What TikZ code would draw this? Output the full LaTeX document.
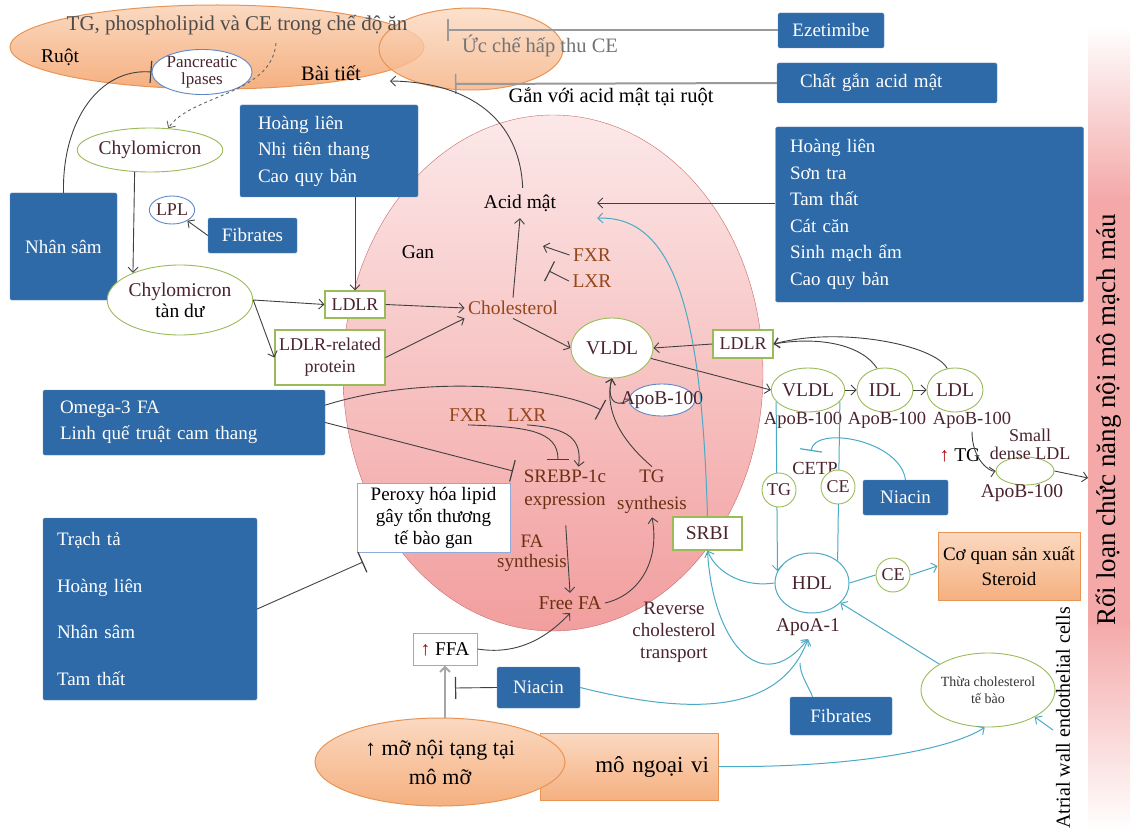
\documentclass[tikz,border=0pt]{standalone}
\usepackage{fontspec}
\setmainfont{Liberation Serif}
\usetikzlibrary{shapes.geometric,arrows.meta,positioning}

\definecolor{boxblue}{RGB}{46,106,168}
\definecolor{lipgreen}{RGB}{155,187,89}
\definecolor{hdlteal}{RGB}{75,170,198}
\definecolor{ellblue}{RGB}{95,135,200}
\definecolor{orglight}{RGB}{251,217,193}
\definecolor{orgmid}{RGB}{245,176,128}
\definecolor{orgline}{RGB}{232,148,85}
\definecolor{livtop}{RGB}{252,232,232}
\definecolor{livbot}{RGB}{242,158,158}
\definecolor{livline}{RGB}{200,105,105}
\definecolor{barpink}{RGB}{244,168,168}
\definecolor{lipbrown}{RGB}{150,70,25}
\definecolor{lipdark}{RGB}{75,35,45}

\tikzset{
  every node/.style={font=\fontsize{19.5}{21}\selectfont},
  bluebox/.style={rectangle, rounded corners=1.5pt, fill=boxblue, draw=boxblue!75!white,
    text=white, font=\fontsize{19}{26.5}\selectfont, inner sep=0pt},
  lipell/.style={ellipse, draw=lipgreen, fill=white, line width=0.9pt, inner sep=0pt, text=lipdark},
  lipbox/.style={rectangle, draw=lipgreen, fill=white, line width=1.2pt, inner sep=0pt,
    text=lipdark, align=center},
  lipcirc/.style={circle, draw=lipgreen, fill=white, line width=0.9pt, inner sep=0pt,
    minimum size=34pt, text=lipdark, font=\fontsize{18}{20}\selectfont},
  blueell/.style={ellipse, draw=ellblue, fill=white, line width=0.9pt, inner sep=0pt, text=lipdark},
  link/.style={->, draw=black!75, line width=0.9pt},
  blockline/.style={-{Bar[width=22pt,line width=1.2pt]}, draw=black!75, line width=0.9pt},
  tealline/.style={draw=hdlteal, line width=1pt},
  orgshade/.style={top color=orglight, bottom color=orgmid, draw=orgline, line width=1pt},
  >={Straight Barb[length=5pt,width=10pt]},
}

\begin{document}
\begin{tikzpicture}[x=1pt,y=-1pt]
\useasboundingbox (0,0) rectangle (1136,832);

\draw[orgshade] (217,47) ellipse [x radius=207, y radius=42];
\draw[orgshade, fill opacity=0.8] (471,49) ellipse [x radius=92, y radius=41];
\draw[draw=livline, top color=livtop, bottom color=livbot] (553,373) ellipse [x radius=210, y radius=258];
\shade[top color=white, bottom color=barpink] (1088,25) rectangle (1130,200.5);
\fill[barpink] (1088,200) rectangle (1130,620);
\shade[top color=barpink, bottom color=white] (1088,619.5) rectangle (1130,830);
\node[rotate=90, font=\fontsize{27}{30}\selectfont] (roi) at (1109,420) {Rối loạn chức năng nội mô mạch máu};
\coordinate (roiIn) at (1088,478);

\node[text=black!70, font=\fontsize{21}{23}\selectfont] (diet) at (237,25) {TG, phospholipid và CE trong chế độ ăn};
\node (ruot) at (60,57) {Ruột};
\node[blueell, minimum width=90pt, minimum height=44pt, align=center,
  font=\fontsize{17}{17}\selectfont] (panc) at (202,72) {Pancreatic\\lpases};
\node[font=\fontsize{20.5}{22}\selectfont] (baitiet) at (331,73) {Bài tiết};
\node[text=black!55, font=\fontsize{20.5}{22}\selectfont] (ucche) at (540,46) {Ức chế hấp thu CE};
\node[font=\fontsize{20.5}{22}\selectfont] (ganvoi) at (611,97) {Gắn với acid mật tại ruột};
\coordinate (dietOut) at (276,43);
\coordinate (bileOut) at (390,81);
\coordinate (ezeBar) at (447,30.5);
\coordinate (ganBar) at (455,84);

\node[bluebox, minimum width=106pt, minimum height=35pt] (eze) at (831,30.5) {Ezetimibe};
\node[bluebox, minimum width=220pt, minimum height=40pt, text width=174pt, align=left]
  (chatgan) at (887,83) {Chất gắn acid mật};
\node[bluebox, minimum width=178pt, minimum height=92pt, text width=142pt, align=left]
  (hl3) at (329,151) {Hoàng liên\\Nhị tiên thang\\Cao quy bản};
\node[bluebox, minimum width=308pt, minimum height=175pt, text width=279pt, align=left]
  (hl6) at (929.5,214.5) {Hoàng liên\\Sơn tra\\Tam thất\\Cát căn\\Sinh mạch ẩm\\Cao quy bản};
\node[bluebox, minimum width=107pt, minimum height=107pt] (nhansam) at (63.5,246.5) {Nhân sâm};
\node[bluebox, minimum width=89pt, minimum height=35pt] (fib1) at (252.5,235.5) {Fibrates};
\node[bluebox, minimum width=282pt, minimum height=65pt, text width=248pt, align=left]
  (omega) at (184,422.5) {Omega-3 FA\\Linh quế truật cam thang};
\node[bluebox, minimum width=214pt, minimum height=182pt, text width=186pt, align=left]
  (trach) at (150,609) {Trạch tả\\[20pt]Hoàng liên\\[20pt]Nhân sâm\\[20pt]Tam thất};
\node[bluebox, minimum width=83pt, minimum height=41pt] (niacin1) at (538.5,687.5) {Niacin};
\node[bluebox, minimum width=85pt, minimum height=35pt] (niacin2) at (905.5,497.5) {Niacin};
\node[bluebox, minimum width=102pt, minimum height=38pt] (fib2) at (841,716) {Fibrates};

\node[lipell, minimum width=100pt, minimum height=44pt] (chylo) at (150,150) {Chylomicron};
\node[blueell, minimum width=44pt, minimum height=28pt, font=\fontsize{18}{20}\selectfont] (lpl) at (172,210) {LPL};
\node[lipell, minimum width=118pt, minimum height=70pt, align=center] (chylorem) at (180,300) {Chylomicron\\\textcolor{black}{tàn dư}};
\node[lipbox, minimum width=60pt, minimum height=27pt, font=\fontsize{18}{20}\selectfont] (ldlr1) at (355,304.5) {LDLR};
\node[lipbox, minimum width=110pt, minimum height=55pt, font=\fontsize{18}{22}\selectfont]
  (ldlrrp) at (330,357.5) {LDLR-related\\protein};

\node (gan) at (418,252) {Gan};
\node[minimum width=154pt, minimum height=30pt, inner sep=0pt] (acid) at (520,203) {Acid mật};
\node[text=lipbrown] (fxr1) at (592,255) {FXR};
\node[text=lipbrown] (lxr1) at (592,281) {LXR};
\coordinate (fxrTip) at (543,246);
\coordinate (lxrBar) at (549,271);
\node[text=lipbrown] (chol) at (513,308) {Cholesterol};
\node[lipell, minimum width=82pt, minimum height=60pt] (vldlin) at (612,348) {VLDL};
\node[lipbox, minimum width=60pt, minimum height=28pt, font=\fontsize{18}{20}\selectfont] (ldlr2) at (743,344) {LDLR};
\node[blueell, inner xsep=-18pt, inner ysep=2pt, minimum width=56pt, minimum height=32pt]
  (apob) at (662,400) {ApoB-100};
\node[text=lipbrown] (fxr2) at (468,415) {FXR};
\node[text=lipbrown] (lxr2) at (527,415) {LXR};
\coordinate (fxrBar2) at (558,460);
\coordinate (vldlBar) at (601,410);
\coordinate (srebpBar) at (513,471);
\node[text=lipbrown!70!black, align=center, font=\fontsize{19}{23}\selectfont] (srebp) at (565,490) {SREBP-1c\\expression};
\node[text=lipbrown!70!black, align=center, font=\fontsize{19}{27}\selectfont] (tgsyn) at (652,492) {TG\\synthesis};
\node[text=lipbrown!70!black, align=center, font=\fontsize{19}{20}\selectfont] (fasyn) at (532,553) {FA\\synthesis};
\node[text=lipbrown!70!black] (freefa) at (570,603) {Free FA};
\node[lipbox, minimum width=69pt, minimum height=33pt] (srbi) at (707.5,533.5) {SRBI};
\node[text=lipdark, align=center, font=\fontsize{19}{22}\selectfont] (revchol) at (674,632) {Reverse\\cholesterol\\transport};
\node[rectangle, draw=ellblue!70, fill=white, line width=1pt, minimum width=153pt, minimum height=69pt,
  inner sep=0pt, align=center, font=\fontsize{19}{22}\selectfont] (peroxy) at (433.5,518) {Peroxy hóa lipid\\gây tổn thương\\tế bào gan};
\coordinate (peroxyBar) at (363,562);
\node[rectangle, draw=ellblue!70, fill=white, line width=1pt, minimum width=64pt, minimum height=32pt,
  inner sep=0pt] (ffa) at (445,649) {\textcolor{red!70!black}{↑} FFA};
\coordinate (niacinBar) at (455,688);

\node[rectangle, orgshade, minimum width=178pt, minimum height=67pt, inner sep=0pt, text width=160pt,
  align=right, font=\fontsize{23}{26}\selectfont] (ngoai) at (629,766.5) {mô ngoại vi};
\node[ellipse, orgshade, minimum width=250pt, minimum height=88pt, inner sep=0pt, align=center,
  font=\fontsize{22}{29}\selectfont] (mo) at (440,762) {↑ mỡ nội tạng tại\\mô mỡ};

\node[lipell, minimum width=66pt, minimum height=44pt] (vldl2) at (808,390) {VLDL};
\node[lipell, minimum width=56pt, minimum height=44pt] (idl) at (885,390) {IDL};
\node[lipell, minimum width=56pt, minimum height=44pt] (ldl) at (955,390) {LDL};
\node[text=lipdark, font=\fontsize{18.5}{20}\selectfont] (apob1) at (803,420) {ApoB-100};
\node[text=lipdark, font=\fontsize{18.5}{20}\selectfont] (apob2) at (887,420) {ApoB-100};
\node[text=lipdark, font=\fontsize{18.5}{20}\selectfont] (apob3) at (972,420) {ApoB-100};
\node[lipell, minimum width=58pt, minimum height=28pt] (sdldl) at (1025,471) {};
\node[text=lipdark, align=center, font=\fontsize{18}{18}\selectfont] (sdtxt) at (1030,444) {Small\\dense LDL};
\node (uptg) at (960,455) {\textcolor{red!70!black}{↑} TG};
\node[text=lipdark] (apob4) at (1022,493) {ApoB-100};
\node[ellipse, draw=hdlteal, fill=white, line width=1pt, minimum width=74pt, minimum height=60pt,
  inner sep=0pt, text=lipdark] (hdl) at (812,583) {HDL};
\node[text=lipdark] (apoa) at (808,627) {ApoA-1};
\node[text=lipdark, font=\fontsize{18.5}{20}\selectfont] (cetp) at (815,468) {CETP};
\coordinate (cetpBar) at (811,451);
\node[rectangle, orgshade, minimum width=142pt, minimum height=68pt, inner sep=0pt, align=center,
  font=\fontsize{19}{25}\selectfont] (steroid) at (1009,566) {Cơ quan sản xuất\\Steroid};
\node[lipell, minimum width=134pt, minimum height=74pt, align=center, text=black!80,
  font=\fontsize{14}{17}\selectfont] (thua) at (988,690) {Thừa cholesterol\\tế bào};
\node[rotate=90, font=\fontsize{20}{22}\selectfont] (atrial) at (1063,718) {Atrial wall endothelial cells};
\coordinate (atrialOut) at (1053,730);
\coordinate (fibJoin) at (800,663);

\draw[-{Bar[width=22pt,line width=1.5pt]}, draw=gray!80, line width=2pt] (eze.west) -- (ezeBar);
\draw[-{Bar[width=20pt,line width=1.5pt]}, draw=gray!80, line width=2pt] (chatgan.west) -- (ganBar);
\draw[link] (acid.80) .. controls (520,120) and (470,82) .. (bileOut);
\draw[link, dashed, draw=black!60] (dietOut) .. controls (272,95) and (190,95) .. (chylo.50);
\draw[blockline] (nhansam.north) .. controls (62,120) and (100,68) .. (panc.west);
\draw[link] (chylo.235) -- (chylorem.150);
\draw[link] (fib1.west) -- (lpl.-35);
\draw[link] (hl3.south -| ldlr1.north) -- (ldlr1.north);
\draw[link] (chylorem.east) -- (ldlr1.west);
\draw[link] (chylorem.east) -- (ldlrrp.west);
\draw[link] (ldlr1.east) -- (chol.west);
\draw[link] (ldlrrp.east) -- (chol.south west);
\draw[link] (chol.north) -- (acid.south);
\draw[link] (fxr1.west) -- (fxrTip);
\draw[blockline] (lxr1.west) -- (lxrBar);
\draw[link] (chol.south) -- (vldlin.west);
\draw[link] (ldlr2.west) -- (vldlin.east);
\draw[link] (vldlin.-15) -- (vldl2.west);
\draw[link] (vldl2.east) -- (idl.west);
\draw[link] (idl.east) -- (ldl.west);
\draw[link] (idl.110) .. controls (862,345) and (820,336) .. (ldlr2.east);
\draw[link] (ldl.110) .. controls (935,345) and (840,326) .. (ldlr2.east);
\draw[link] (hl6.west |- acid.east) -- (acid.east);
\draw[link] (apob.west) .. controls (612,410) and (607,395) .. (vldlin.south);
\draw[link] (tgsyn.north) .. controls (615,435) and (605,405) .. (vldlin.south);
\draw[blockline] (omega.7) .. controls (430,372) and (560,388) .. (vldlBar);
\draw[blockline] (omega.east) -- (srebpBar);
\draw[blockline] (fxr2.south) .. controls (525,427) and (558,430) .. (fxrBar2);
\draw[link] (lxr2.south) .. controls (570,428) and (582,440) .. (srebp.60);
\draw[link, shorten <=12pt] (srebp.south) -- (freefa.north);
\draw[link] (freefa.east) .. controls (640,595) and (660,560) .. (tgsyn.south);
\draw[link] (ffa.east) .. controls (515,655) and (545,640) .. (freefa.south);
\draw[blockline] (trach.east) -- (peroxyBar);
\draw[->, draw=gray!70, line width=2pt] (mo.north -| ffa.south) -- (ffa.south);
\draw[blockline] (niacin1.west) -- (niacinBar);
\draw[link] (apob3.south) .. controls (972,460) and (990,472) .. (sdldl.west);
\draw[link] (sdldl.east) -- (roiIn);

\draw[tealline, ->] (srbi.north) .. controls (702,330) and (680,215) .. (acid.south east);
\draw[tealline, ->] (hdl.west) .. controls (740,588) and (715,570) .. (srbi.south);
\draw[tealline, ->] (srbi.south) .. controls (712,640) and (760,700) .. (apoa.south);
\draw[tealline, ->] (niacin1.east) .. controls (690,715) and (780,715) .. (apoa.south);
\draw[tealline] (fib2.146) .. controls (808,685) and (800,675) .. (fibJoin);
\draw[tealline, ->] (vldl2.200) -- (hdl.161);
\draw[tealline] (vldl2.-20) -- (hdl.41);
\node[lipcirc] (tgc) at (779,490) {TG};
\node[lipcirc] (cec) at (838,487) {CE};
\draw[tealline, -{Bar[width=22pt,line width=1.2pt]}] (niacin2.north) .. controls (900,440) and (815,425) .. (cetpBar);
\node[lipcirc] (ce2) at (893,575) {CE};
\draw[tealline] (hdl.east) -- (ce2.west);
\draw[tealline, ->] (ce2.east) -- (steroid.west);
\draw[tealline, ->] (thua.152) -- (hdl.-35);
\draw[tealline, ->] (atrialOut) -- (thua.-30);
\draw[tealline, ->] (ngoai.east) .. controls (850,768) and (950,750) .. (thua.-95);
\end{tikzpicture}
\end{document}
